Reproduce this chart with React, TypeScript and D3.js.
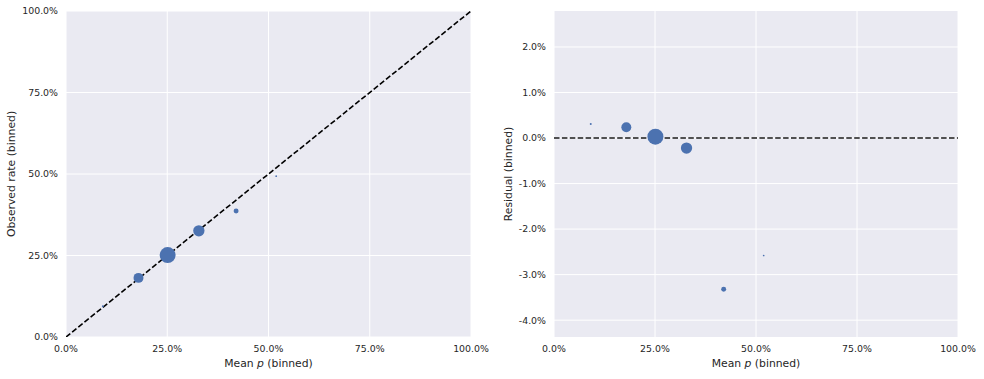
import React from "react";
import * as d3 from "d3";

const meanP = [0.091, 0.179, 0.251, 0.328, 0.420, 0.519];
const residual = [0.0031, 0.00235, 0.0003, -0.0022, -0.0332, -0.0258];
const counts = [40, 1000, 2600, 1300, 250, 30];
const observed = meanP.map((p, i) => p + residual[i]);

const xTicks = [0, 0.25, 0.5, 0.75, 1];
const yTicksLeft = [0, 0.25, 0.5, 0.75, 1];
const yTicksRight = [0.02, 0.01, 0, -0.01, -0.02, -0.03, -0.04];

const W = 984, H = 379;
const BG = "#EAEAF2";
const DOT = "#4C72B0";
const TXT = "#262626";
const FONT = "DejaVu Sans, sans-serif";
const TICK_FS = 9.4;
const LABEL_FS = 10.8;
const fmt = (v: number) => (v * 100).toFixed(1) + "%";

function Panel({ left, right, top, bottom, yDomain, yTicks, yLabel, ys, refLine, labelOffset, lineColor }: any) {
  const x = d3.scaleLinear().domain([0, 1]).range([left, right]);
  const y = d3.scaleLinear().domain(yDomain).range([bottom, top]);
  const r = d3.scaleSqrt().domain([0, 2600]).range([0, 8]);
  const clipId = "clip" + left;
  return (
    <g>
      <defs>
        <clipPath id={clipId}>
          <rect x={left} y={top} width={right - left} height={bottom - top} />
        </clipPath>
      </defs>
      <rect x={left} y={top} width={right - left} height={bottom - top} fill={BG} />
      {xTicks.map((t) => (
        <line key={"gx" + t} x1={x(t)} x2={x(t)} y1={top} y2={bottom} stroke="#fff" strokeWidth={1} />
      ))}
      {yTicks.map((t: number) => (
        <line key={"gy" + t} x1={left} x2={right} y1={y(t)} y2={y(t)} stroke="#fff" strokeWidth={1} />
      ))}
      <g clipPath={`url(#${clipId})`}>
        {refLine === "diag" ? (
          <line x1={x(0)} y1={y(0)} x2={x(1)} y2={y(1)} stroke={lineColor} strokeWidth={1.6} strokeDasharray="5.5,2.4" />
        ) : (
          <line x1={left} y1={y(0)} x2={right} y2={y(0)} stroke={lineColor} strokeWidth={1.6} strokeDasharray="5.5,2.4" />
        )}
        {meanP.map((p, i) => (
          <circle key={i} cx={x(p)} cy={y(ys[i])} r={r(counts[i])} fill={DOT} />
        ))}
      </g>
      {xTicks.map((t) => (
        <text key={"tx" + t} x={x(t)} y={bottom + 14.5} textAnchor="middle" fontSize={TICK_FS} fill={TXT} fontFamily={FONT}>
          {fmt(t)}
        </text>
      ))}
      {yTicks.map((t: number) => (
        <text key={"ty" + t} x={left - 8} y={y(t) + 3.4} textAnchor="end" fontSize={TICK_FS} fill={TXT} fontFamily={FONT}>
          {fmt(t)}
        </text>
      ))}
      <text x={(left + right) / 2} y={bottom + 30} textAnchor="middle" fontSize={LABEL_FS} fill={TXT} fontFamily={FONT}>
        Mean <tspan fontStyle="italic">p</tspan> (binned)
      </text>
      <text
        transform={`translate(${left - labelOffset},${(top + bottom) / 2}) rotate(-90)`}
        textAnchor="middle"
        fontSize={LABEL_FS}
        fill={TXT}
        fontFamily={FONT}
      >
        {yLabel}
      </text>
    </g>
  );
}

export default function App() {
  return (
    <svg width={W} height={H} style={{ position: "absolute", left: 0, top: 0 }}>
      <rect width={W} height={H} fill="#fff" />
      <Panel left={66} right={471} top={11} bottom={337} yDomain={[0, 1]} yTicks={yTicksLeft}
        yLabel="Observed rate (binned)" ys={observed} refLine="diag" labelOffset={51} lineColor="#000" />
      <Panel left={554} right={958} top={11} bottom={337} yDomain={[-0.0437, 0.0279]} yTicks={yTicksRight}
        yLabel="Residual (binned)" ys={residual} refLine="h" labelOffset={42} lineColor="#1a1a1a" />
    </svg>
  );
}
